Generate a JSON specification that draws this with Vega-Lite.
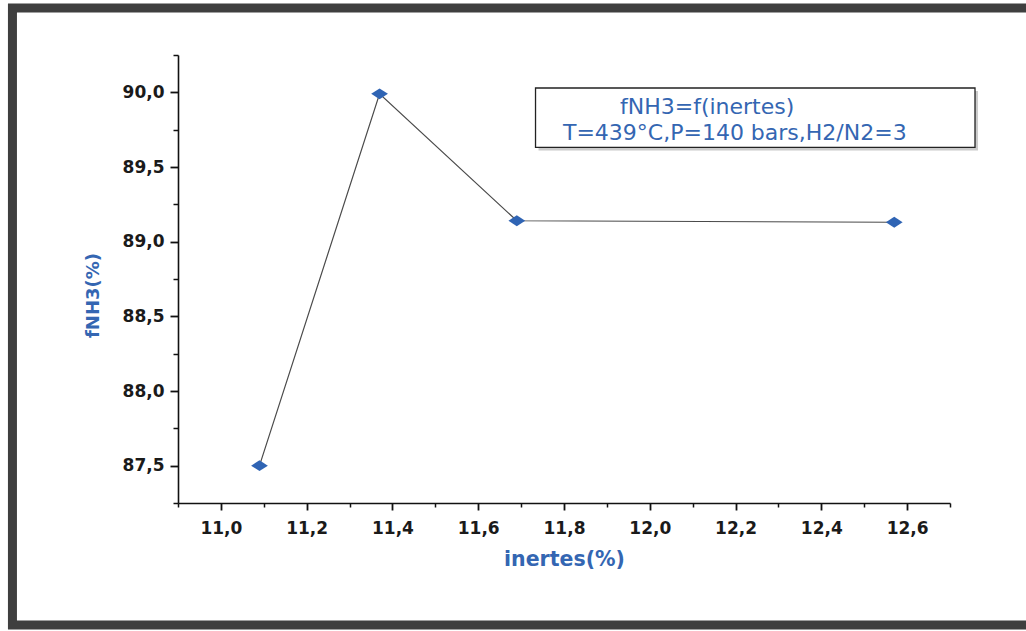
{
  "$schema": "https://vega.github.io/schema/vega-lite/v6.json",
  "width": 772,
  "height": 448,
  "autosize": {"type": "none"},
  "padding": {"left": 178, "top": 55, "right": 76, "bottom": 128},
  "background": "white",
  "config": {"view": {"stroke": null}, "font": "DejaVu Sans"},
  "data": {"values": [
    {"inertes": 11.09, "fNH3": 87.50},
    {"inertes": 11.37, "fNH3": 89.99},
    {"inertes": 11.69, "fNH3": 89.14},
    {"inertes": 12.57, "fNH3": 89.13}
  ]},
  "resolve": {"axis": {"x": "independent", "y": "independent"}},
  "layer": [
    {
      "data": {"values": [{}]},
      "mark": {"type": "rect", "fill": null, "stroke": "#3f3f3f", "strokeWidth": 9},
      "encoding": {
        "x": {"datum": 10.514, "type": "quantitative", "axis": null, "scale": {"domain": [10.9, 12.7], "nice": false, "zero": false}},
        "x2": {"datum": 12.898},
        "y": {"datum": 90.565, "type": "quantitative", "axis": null, "scale": {"domain": [87.25, 90.25], "nice": false, "zero": false}},
        "y2": {"datum": 86.433}
      }
    },
    {
      "data": {"values": [{}]},
      "mark": {"type": "rect", "fill": "#b5b5b5", "opacity": 0.7, "xOffset": 3, "x2Offset": 3, "yOffset": 3, "y2Offset": 3},
      "encoding": {
        "x": {"datum": 11.7336, "type": "quantitative", "axis": null},
        "x2": {"datum": 12.7583},
        "y": {"datum": 90.029, "type": "quantitative", "axis": null},
        "y2": {"datum": 89.631}
      }
    },
    {
      "data": {"values": [{}]},
      "mark": {"type": "rect", "fill": "white", "stroke": "#222222", "strokeWidth": 1.3},
      "encoding": {
        "x": {"datum": 11.7336, "type": "quantitative", "axis": null},
        "x2": {"datum": 12.7583},
        "y": {"datum": 90.029, "type": "quantitative", "axis": null},
        "y2": {"datum": 89.631}
      }
    },
    {
      "data": {"values": [{}]},
      "mark": {"type": "text", "text": "fNH3=f(inertes)", "align": "left", "baseline": "alphabetic", "font": "DejaVu Sans", "fontSize": 22, "color": "#3466b2"},
      "encoding": {
        "x": {"datum": 11.9305, "type": "quantitative", "axis": null},
        "y": {"datum": 89.857, "type": "quantitative", "axis": null}
      }
    },
    {
      "data": {"values": [{}]},
      "mark": {"type": "text", "text": "T=439°C,P=140 bars,H2/N2=3", "align": "left", "baseline": "alphabetic", "font": "DejaVu Sans", "fontSize": 22, "color": "#3466b2"},
      "encoding": {
        "x": {"datum": 11.7976, "type": "quantitative", "axis": null},
        "y": {"datum": 89.679, "type": "quantitative", "axis": null}
      }
    },
    {
      "mark": {"type": "line", "color": "#4a4a4a", "strokeWidth": 1.2},
      "encoding": {
        "x": {
          "field": "inertes", "type": "quantitative",
          "axis": {
            "orient": "bottom",
            "values": [11.0, 11.2, 11.4, 11.6, 11.8, 12.0, 12.2, 12.4, 12.6],
            "labelExpr": "replace(format(datum.value, '.1f'), '.', ',')",
            "grid": false, "domainColor": "#111111", "domainWidth": 1.6,
            "tickColor": "#111111", "tickWidth": 1.8, "tickSize": 7,
            "labelFont": "DejaVu Sans", "labelFontWeight": "bold", "labelFontSize": 17, "labelColor": "#1a1a1a",
            "labelPadding": 10, "labelFlush": false, "labelOverlap": false,
            "title": "inertes(%)", "titleFont": "DejaVu Sans", "titleFontSize": 20.5, "titleFontWeight": "bold",
            "titleColor": "#3466b2", "titlePadding": 13
          }
        },
        "y": {
          "field": "fNH3", "type": "quantitative",
          "axis": {
            "orient": "left",
            "values": [87.5, 88.0, 88.5, 89.0, 89.5, 90.0],
            "labelExpr": "replace(format(datum.value, '.1f'), '.', ',')",
            "grid": false, "domainColor": "#111111", "domainWidth": 1.6,
            "tickColor": "#111111", "tickWidth": 1.8, "tickSize": 8,
            "labelFont": "DejaVu Sans", "labelFontWeight": "bold", "labelFontSize": 17, "labelColor": "#1a1a1a",
            "labelPadding": 6, "labelFlush": false, "labelOverlap": false,
            "title": "fNH3(%)", "titleFont": "DejaVu Sans", "titleFontSize": 18, "titleFontWeight": "bold",
            "titleColor": "#3466b2", "titleX": -76, "titleY": 240
          }
        }
      }
    },
    {
      "mark": {"type": "point", "shape": "M -1 0 L 0 -0.65 L 1 0 L 0 0.65 Z", "filled": true, "size": 280, "color": "#2f64b4", "opacity": 1, "strokeWidth": 0},
      "encoding": {
        "x": {
          "field": "inertes", "type": "quantitative",
          "axis": {
            "orient": "bottom",
            "values": [10.9, 11.1, 11.3, 11.5, 11.7, 11.9, 12.1, 12.3, 12.5, 12.7],
            "labels": false, "domain": false, "grid": false, "title": null,
            "tickColor": "#111111", "tickWidth": 1.5, "tickSize": 4
          }
        },
        "y": {
          "field": "fNH3", "type": "quantitative",
          "axis": {
            "orient": "left",
            "values": [87.25, 87.75, 88.25, 88.75, 89.25, 89.75, 90.25],
            "labels": false, "domain": false, "grid": false, "title": null,
            "tickColor": "#111111", "tickWidth": 1.5, "tickSize": 5
          }
        }
      }
    }
  ]
}
